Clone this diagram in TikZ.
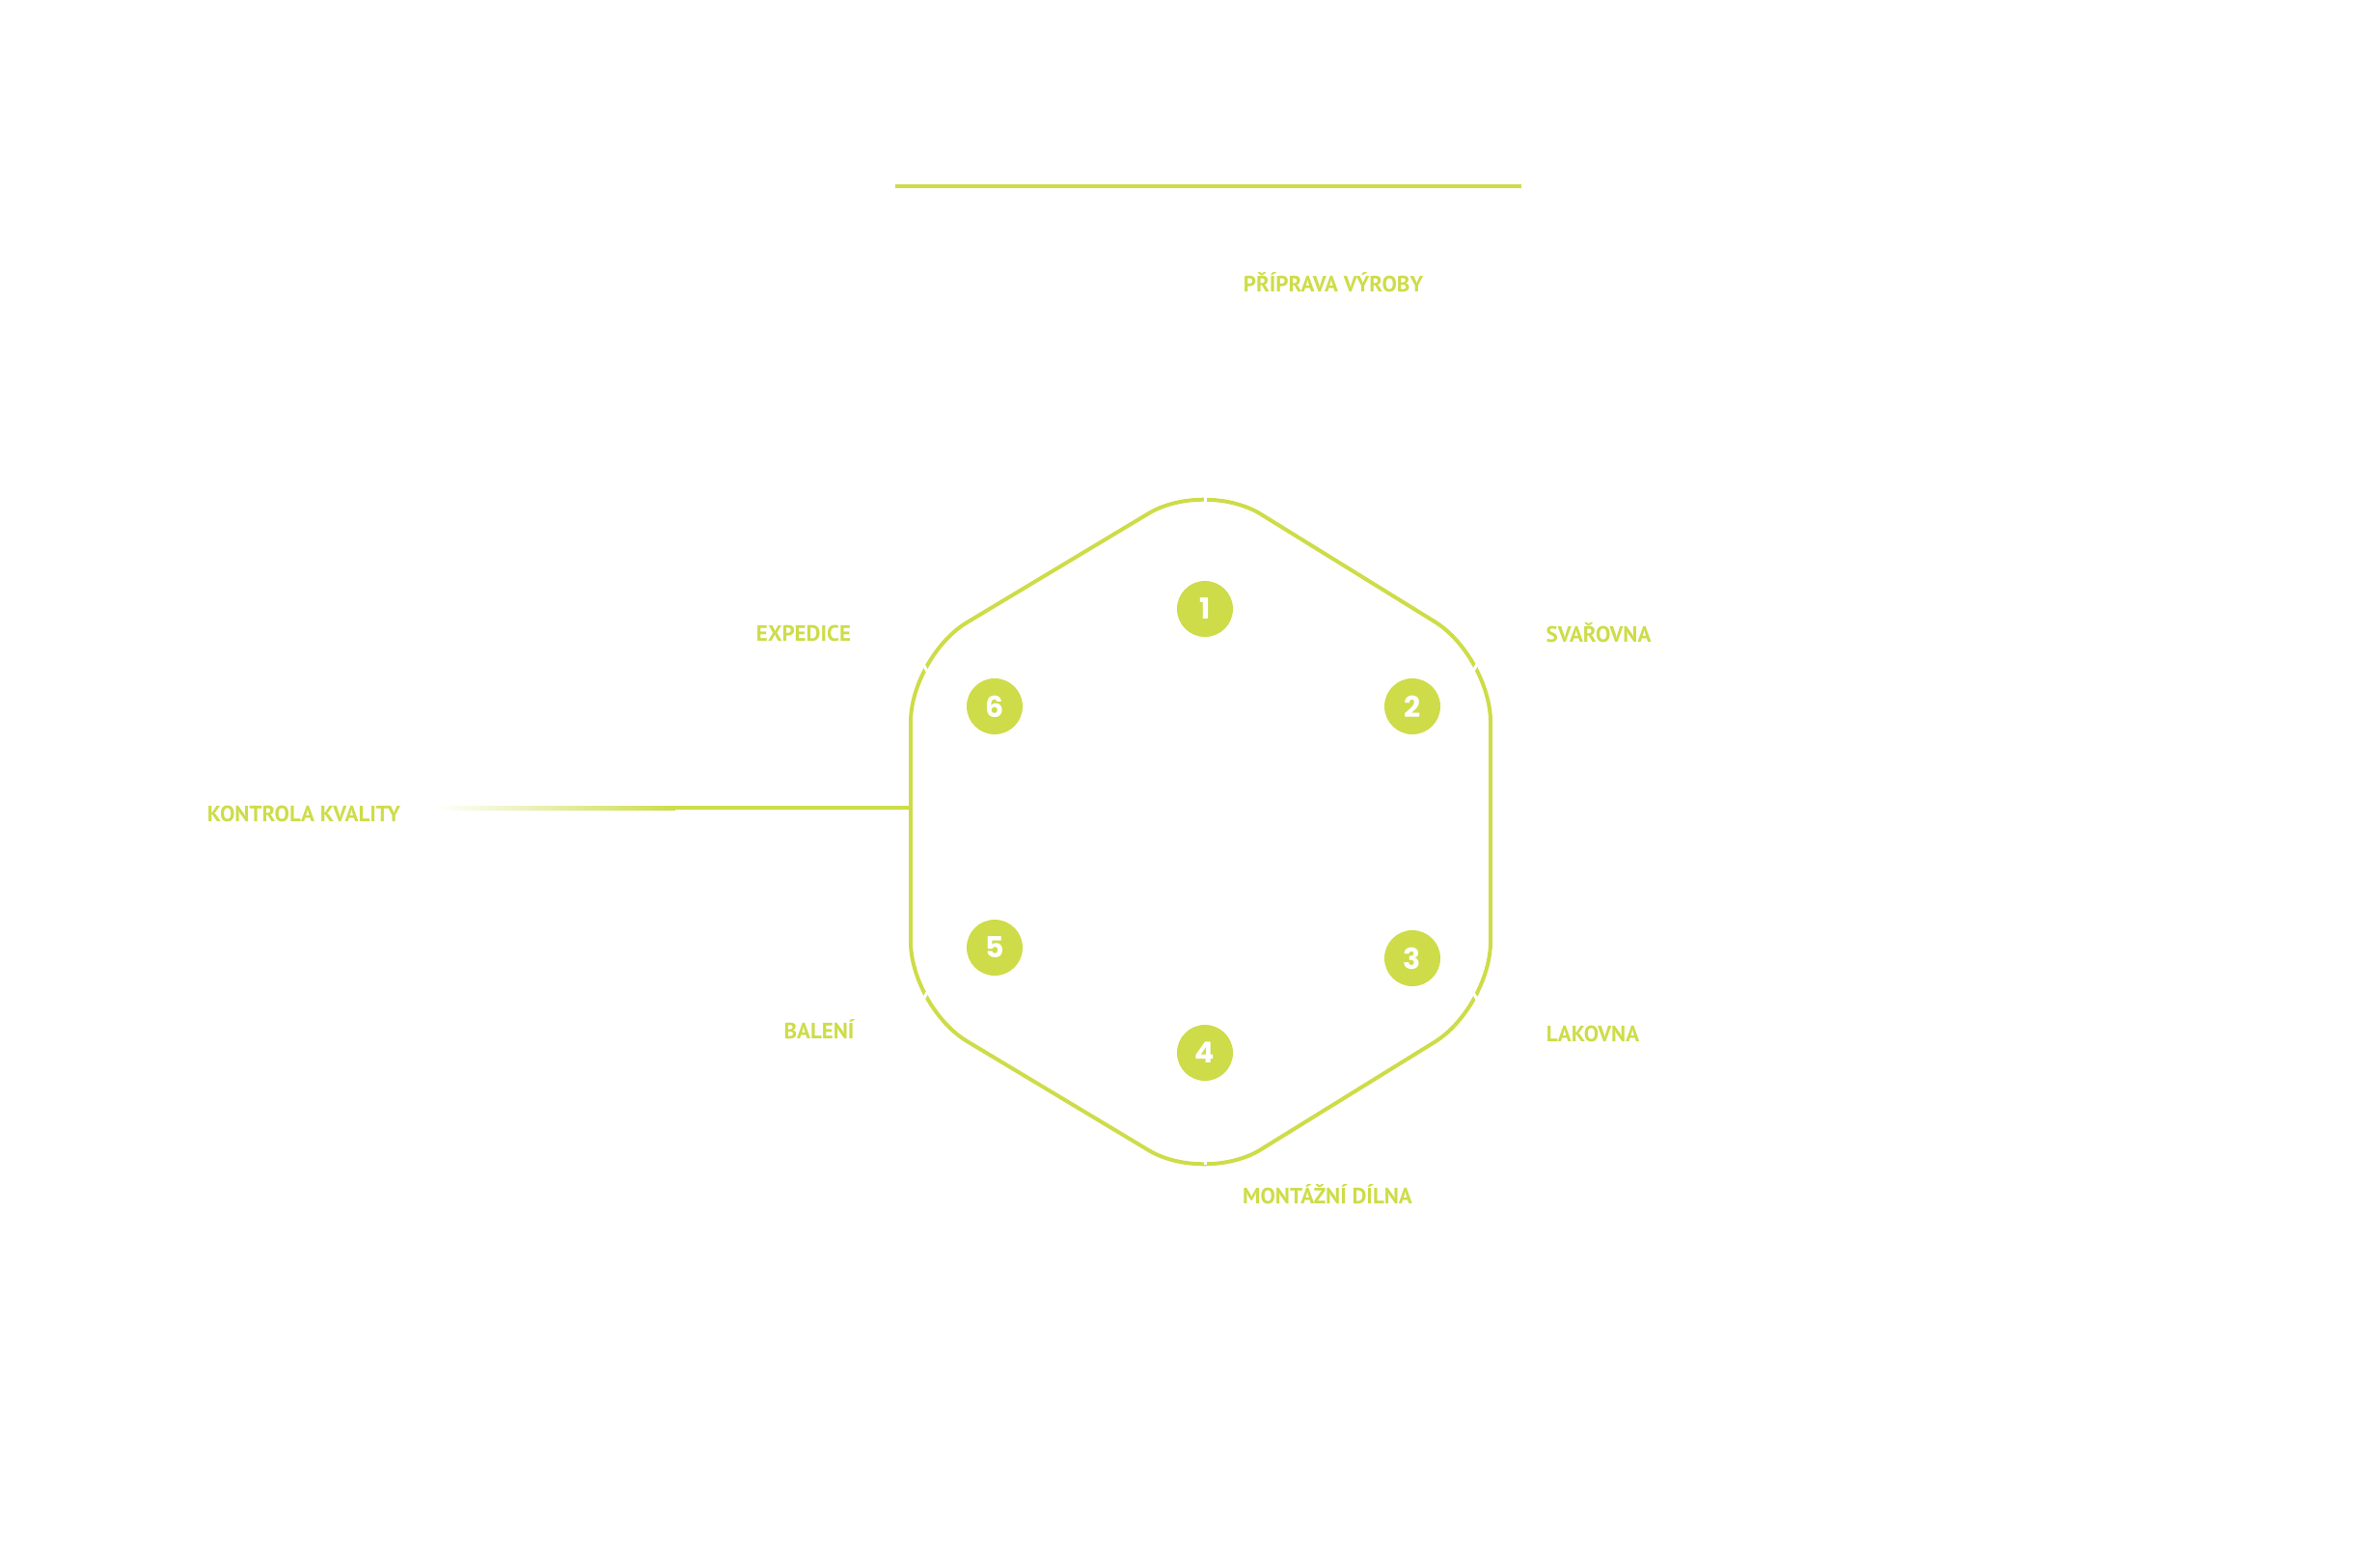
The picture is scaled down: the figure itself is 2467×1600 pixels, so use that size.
\documentclass[tikz,border=0pt]{standalone}
\usepackage{fontspec}
\setmainfont{PT Sans}
\newfontfamily\numfont{Poppins}
\definecolor{lime}{RGB}{205,220,72}
\begin{document}
\begin{tikzpicture}[x=1pt,y=-1pt,
  lbl/.style={text=lime,font=\fontsize{23}{26}\selectfont\bfseries,inner sep=0pt},
  num/.style={circle,fill=lime,minimum size=58pt,inner sep=0pt,text=white,font=\numfont\fontsize{30}{30}\selectfont\bfseries},
  hexline/.style={draw=lime,line width=4pt},
  gapmark/.style={draw=white,line width=3pt}]
\useasboundingbox (0,0) rectangle (2467,1600);
\draw[lime,line width=4.5pt] (928,193) coordinate (l1) -- (1577,193) coordinate (l2);
\draw[hexline,rounded corners=68pt] (1249,497) -- (1545,680) -- (1545,1044) -- (1249,1227) -- (944,1044) -- (944,680) -- cycle;
% small gaps
\foreach \x/\y/\a in {1249/520/90, 1249/1201/90, 958/690/-62, 1530/690/62, 958/1034/62, 1530/1034/-62}
  \draw[gapmark] (\x,\y) ++(\a:6pt) -- ++(\a+180:12pt);
\node[num] (n1) at (1249,631) {1};
\node[num] (n2) at (1464,732) {2};
\node[num] (n3) at (1464,993) {3};
\node[num] (n4) at (1249,1091) {4};
\node[num] (n5) at (1031,982) {5};
\node[num] (n6) at (1031,732) {6};
\node[lbl] (t1) at (1382,293) {PŘÍPRAVA VÝROBY};
\node[lbl] (t2) at (1657,656) {SVAŘOVNA};
\node[lbl] (t3) at (1651,1071) {LAKOVNA};
\node[lbl] (t4) at (1376,1238) {MONTÁŽNÍ DÍLNA};
\node[lbl] (t5) at (849,1067) {BALENÍ};
\node[lbl] (t6) at (833,656) {EXPEDICE};
\node[lbl] (t7) at (315,843) {KONTROLA KVALITY};
\coordinate (g0) at (451,837);
\coordinate (g1) at (944,837);
\shade[left color=white,right color=lime] (451,835) rectangle (700,839);
\fill[lime] (700,835) rectangle (944,839);
\end{tikzpicture}
\end{document}
